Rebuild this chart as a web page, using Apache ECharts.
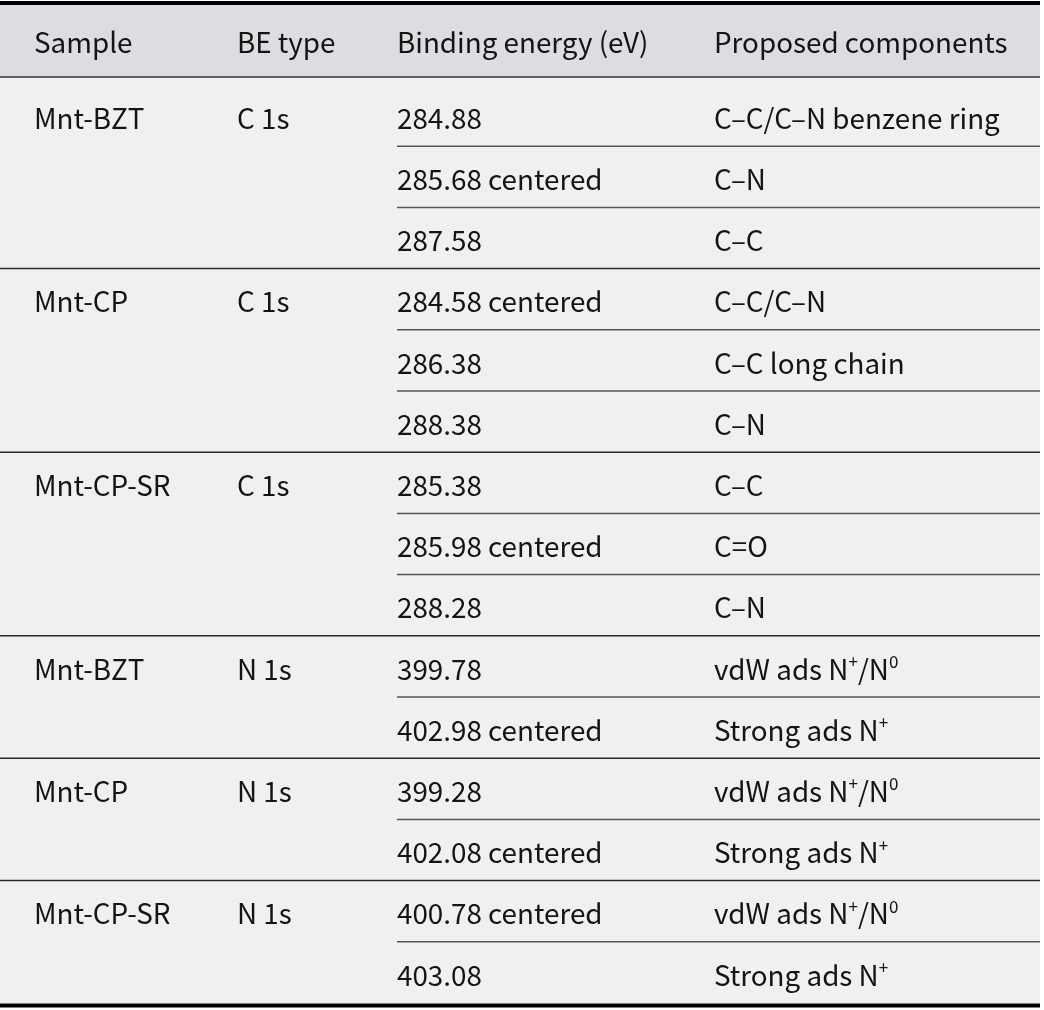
<!DOCTYPE html>
<html>
<head>
<meta charset="utf-8">
<script src="https://cdn.jsdelivr.net/npm/echarts@6/dist/echarts.min.js"></script>
<style>
  html, body { margin: 0; padding: 0; background: #fff; }
  #main { width: 1044px; height: 1010px; }
</style>
</head>
<body>
<div id="main"></div>
<script>
// table data
var headers = ['Sample', 'BE type', 'Binding energy (eV)', 'Proposed components'];
var samples = ['Mnt-BZT', 'Mnt-CP', 'Mnt-CP-SR', 'Mnt-BZT', 'Mnt-CP', 'Mnt-CP-SR'];
var beTypes = ['C 1s', 'C 1s', 'C 1s', 'N 1s', 'N 1s', 'N 1s'];
var groupSizes = [3, 3, 3, 2, 2, 2];
var energies = [
  '284.88', '285.68 centered', '287.58',
  '284.58 centered', '286.38', '288.38',
  '285.38', '285.98 centered', '288.28',
  '399.78', '402.98 centered',
  '399.28', '402.08 centered',
  '400.78 centered', '403.08'
];
// {sup|..} marks superscripts
var components = [
  'C–C/C–N benzene ring', 'C–N', 'C–C',
  'C–C/C–N', 'C–C long chain', 'C–N',
  'C–C', 'C=O', 'C–N',
  'vdW ads N{sup|+}/N{sup|0}', 'Strong ads N{sup|+}',
  'vdW ads N{sup|+}/N{sup|0}', 'Strong ads N{sup|+}',
  'vdW ads N{sup|+}/N{sup|0}', 'Strong ads N{sup|+}'
];

// layout
var colX = [34, 237, 397, 714];
var tableRight = 1040;
var FONT = '"Noto Sans CJK SC", "Noto Sans", sans-serif';
var FS = 27.8;

// which row starts / ends a group
var rowGroup = [];
groupSizes.forEach(function (n, g) {
  for (var k = 0; k < n; k++) rowGroup.push({ g: g, first: k === 0, last: k === n - 1 });
});

var rowData = energies.map(function (e, i) { return [0, i]; });

function txt(x, y, s) {
  return {
    type: 'text',
    style: {
      x: x, y: y, text: s,
      fill: '#141414',
      fontSize: FS,
      fontFamily: FONT,
      verticalAlign: 'middle',
      lineHeight: 32,
      rich: {
        sup: { fontSize: 17, lineHeight: 17, verticalAlign: 'top', fontFamily: FONT, fill: '#141414' }
      }
    }
  };
}

var chart = echarts.init(document.getElementById('main'));

chart.setOption({
  animation: false,
  grid: { left: 0, right: 4, top: 5, bottom: 7 },
  xAxis: { type: 'value', min: 0, max: 1, show: false },
  yAxis: { type: 'value', inverse: true, min: -1.307, max: energies.length, show: false },
  series: [
    {
      // backgrounds + header
      type: 'custom',
      data: [[0, 0]],
      renderItem: function (params, api) {
        var top = api.coord([0, -1.307])[1];
        var hb = api.coord([0, -0.13])[1];
        var bot = api.coord([0, energies.length])[1];
        var children = [
          { type: 'rect', shape: { x: 0, y: top, width: tableRight, height: bot - top }, style: { fill: '#eff0f2' } },
          { type: 'rect', shape: { x: 0, y: top, width: tableRight, height: hb - top }, style: { fill: '#dcdde0' } },
          { type: 'line', shape: { x1: 0, y1: top - 2, x2: tableRight, y2: top - 2 }, style: { stroke: '#000', lineWidth: 4 } },
          { type: 'line', shape: { x1: 0, y1: hb, x2: tableRight, y2: hb }, style: { stroke: '#333', lineWidth: 1.5 } },
          { type: 'line', shape: { x1: 0, y1: bot + 2.5, x2: tableRight, y2: bot + 2.5 }, style: { stroke: '#000', lineWidth: 4 } }
        ];
        headers.forEach(function (h, c) {
          children.push(txt(colX[c], top + 37, h));
        });
        return { type: 'group', children: children };
      }
    },
    {
      // body rows
      type: 'custom',
      data: rowData,
      renderItem: function (params, api) {
        var i = api.value(1);
        var info = rowGroup[i];
        var yb = api.coord([0, i + 1])[1];
        var ty = yb - 28;
        var children = [];
        if (info.first) {
          children.push(txt(colX[0], ty, samples[info.g]));
          children.push(txt(colX[1], ty, beTypes[info.g]));
        }
        children.push(txt(colX[2], ty, energies[i]));
        children.push(txt(colX[3], ty, components[i]));
        if (i < energies.length - 1) {
          children.push({
            type: 'line',
            shape: { x1: info.last ? 0 : colX[2], y1: yb, x2: tableRight, y2: yb },
            style: { stroke: info.last ? '#2a2a2a' : '#555', lineWidth: 1.5 }
          });
        }
        return { type: 'group', children: children };
      }
    }
  ]
});
</script>
</body>
</html>
